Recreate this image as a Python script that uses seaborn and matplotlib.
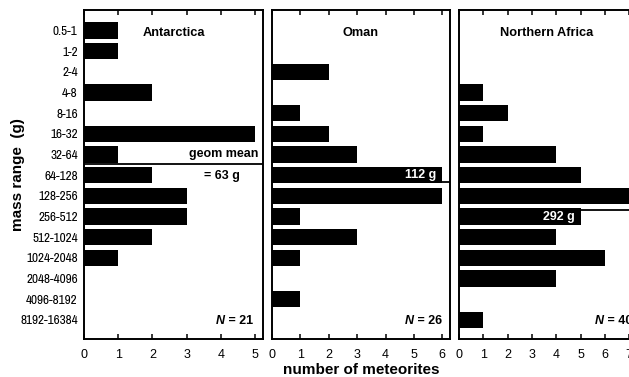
"""Meteorite mass distributions for three find regions."""

import numpy as np
import pandas as pd
import matplotlib.pyplot as plt
import seaborn as sns

mass_bins = ["0.5-1", "1-2", "2-4", "4-8", "8-16", "16-32", "32-64", "64-128",
             "128-256", "256-512", "512-1024", "1024-2048", "2048-4096",
             "4096-8192", "8192-16384"]
antarctica = [1, 1, 0, 2, 0, 5, 1, 2, 3, 3, 2, 1, 0, 0, 0]
oman = [0, 0, 2, 0, 1, 2, 3, 6, 6, 1, 3, 1, 0, 1, 0]
northern_africa = [0, 0, 0, 1, 2, 1, 4, 5, 7, 5, 4, 6, 4, 0, 1]
regions = ["Antarctica", "Oman", "Northern Africa"]
geom_means = [63, 112, 292]  # grams
x_max = [5, 6, 7]

sns.set_style("white")
plt.rcParams["font.family"] = ["Liberation Sans", "DejaVu Sans"]
for key in ["text.color", "axes.labelcolor", "xtick.color", "ytick.color"]:
    plt.rcParams[key] = "black"
narrow = ["Archivo Narrow", "Liberation Sans", "DejaVu Sans"]

fig = plt.figure(figsize=(6.29, 3.77), dpi=100)
# axes boxes in figure fraction: left, bottom, width, height
boxes = [
    (0.1335, 0.1008, 0.2846, 0.8727),
    (0.4324, 0.1008, 0.2830, 0.8727),
    (0.7297, 0.1008, 0.2797, 0.8727),
]
xlims = [5.23, 6.27, 7.23]
n_text_x = [0.944, 0.955, 0.985]

counts = [antarctica, oman, northern_africa]
axes = []
for k, region in enumerate(regions):
    ax = fig.add_axes(boxes[k])
    axes.append(ax)
    df = pd.DataFrame({"mass": mass_bins, "count": counts[k]})
    sns.barplot(data=df, x="count", y="mass", order=mass_bins, color="black",
                saturation=1, width=0.79, linewidth=0, ax=ax, zorder=3)
    ax.set_xlim(0, xlims[k])
    ax.set_ylim(14.92, -0.99)
    ax.set_xticks(range(0, x_max[k] + 1))
    ax.tick_params(axis="x", direction="in", top=True, bottom=True,
                   length=3.5, width=1.1, labelsize=9, pad=7.5, color="black")
    ax.tick_params(axis="y", left=False, length=0, labelsize=9.5, pad=4.5)
    for lab in ax.get_yticklabels():
        lab.set_family(narrow)
    if k > 0:
        ax.set_yticklabels([])
    ax.set_xlabel("")
    ax.set_ylabel("")
    for sp in ax.spines.values():
        sp.set_visible(True)
        sp.set_color("black")
        sp.set_linewidth(1.4)

    # panel title
    ax.text(0.5, 0.93, region, transform=ax.transAxes, ha="center",
            va="center", fontsize=9.2, weight="bold")

    # N = total
    t = ax.text(n_text_x[k], 0.035, " = %d" % sum(counts[k]),
                transform=ax.transAxes, ha="right", va="bottom",
                fontsize=9, weight="bold")
    ax.annotate("N", xy=(0, 0), xycoords=t, ha="right", va="bottom",
                fontsize=9, weight="bold", style="italic")

    # geometric mean line (bin i spans 2**(i-1) .. 2**i grams)
    gm = geom_means[k]
    y_gm = np.log2(gm) + 0.5
    ax.axhline(y_gm, color="black", lw=1.3, zorder=1)
    if k == 0:
        ax.text(0.975, y_gm - 0.2, "geom mean", transform=ax.get_yaxis_transform(),
                ha="right", va="bottom", fontsize=9, weight="bold")
        ax.text(0.77, y_gm + 0.25, "= %d g" % gm, transform=ax.get_yaxis_transform(),
                ha="center", va="top", fontsize=9, weight="bold")
    else:
        bar_i = int(round(y_gm))
        ax.annotate("%d g" % gm, xy=(counts[k][bar_i], bar_i),
                    xytext=(-4.5, 0), textcoords="offset points",
                    ha="right", va="center", color="white",
                    fontsize=9, weight="bold", zorder=4)

fig.text(18 / 629, 0.5 + 0.0373, "mass range  (g)", rotation=90, ha="center",
         va="center", fontsize=11, weight="bold")
axes[1].set_xlabel("number of meteorites", fontsize=11, weight="bold", labelpad=1)

fig.savefig("out.png", dpi=100)
